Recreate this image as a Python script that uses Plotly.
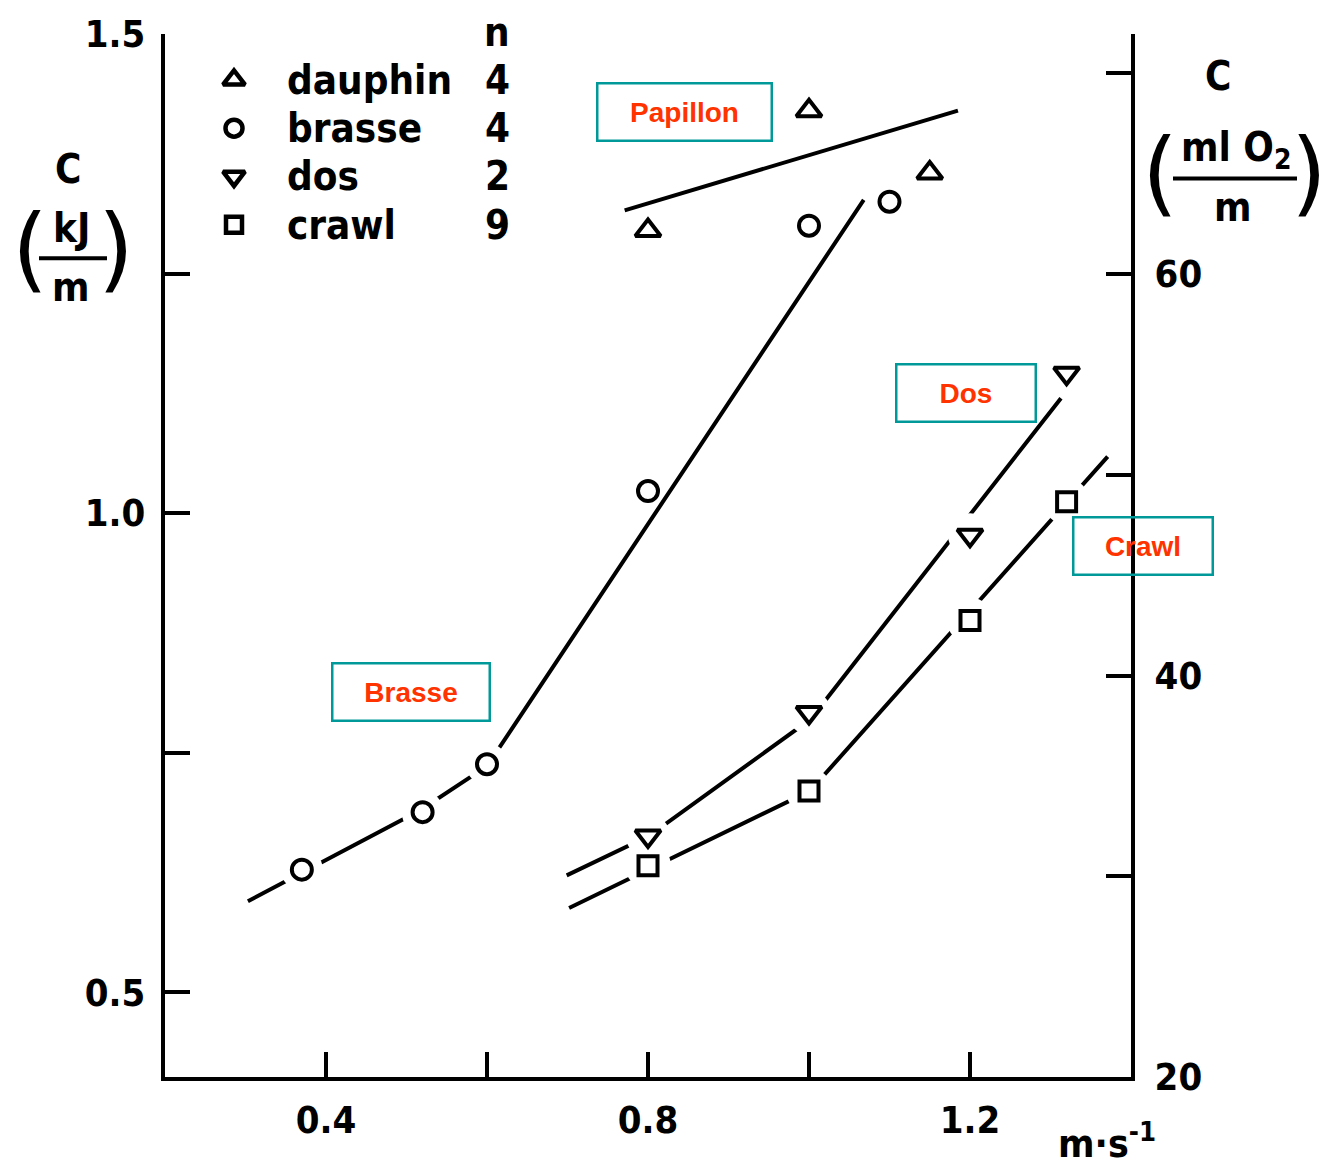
import plotly.graph_objects as go

# ---------------- data ----------------
dauphin_v = [0.80, 1.00, 1.15]
dauphin_c = [1.295, 1.420, 1.355]

brasse_v = [0.37, 0.52, 0.60, 0.80, 1.00, 1.10]
brasse_c = [0.628, 0.688, 0.738, 1.023, 1.300, 1.325]

dos_v = [0.80, 1.00, 1.20, 1.32]
dos_c = [0.663, 0.792, 0.977, 1.146]

crawl_v = [0.80, 1.00, 1.20, 1.32]
crawl_c = [0.632, 0.710, 0.888, 1.012]

# fitted curves drawn in the figure
papillon_fit_v = [0.771, 1.185]
papillon_fit_c = [1.316, 1.420]
brasse_fit_v = [0.303, 0.517, 0.600, 1.068]
brasse_fit_c = [0.595, 0.690, 0.736, 1.327]
dos_fit_v = [0.699, 0.801, 1.002, 1.313]
dos_fit_c = [0.622, 0.663, 0.785, 1.120]
crawl_fit_v = [0.702, 1.001, 1.371]
crawl_fit_c = [0.588, 0.710, 1.059]

legend_labels = ["dauphin", "brasse", "dos", "crawl"]
legend_n = ["4", "4", "2", "9"]
legend_header = "n"

x_ticks = [0.4, 0.6, 0.8, 1.0, 1.2]
x_ticktext = ["0.4", " ", "0.8", " ", "1.2"]
yl_ticks = [0.5, 0.75, 1.0, 1.25, 1.5]
yl_ticktext = ["0.5", " ", "1.0", " ", "1.5"]
yr_ticks = [20, 30, 40, 50, 60, 70]
yr_ticktext = ["20", " ", "40", " ", "60", " "]

box_labels = ["Papillon", "Dos", "Crawl", "Brasse"]

# ---------------- layout geometry ----------------
W, H = 1337, 1165
L, R, T, B = 165, 206, 30, 88
PW, PH = W - L - R, H - T - B
FONT = "DejaVu Sans Condensed"
BLACK = "#000000"
BG = "#ffffff"


def px(x):
    return (x - L) / PW


def py(y):
    return (H - B - y) / PH


fig = go.Figure()

line_style = dict(color=BLACK, width=4)
for xv, yv in [(papillon_fit_v, papillon_fit_c), (brasse_fit_v, brasse_fit_c),
               (dos_fit_v, dos_fit_c), (crawl_fit_v, crawl_fit_c)]:
    fig.add_trace(go.Scatter(x=xv, y=yv, mode="lines", line=line_style,
                             hoverinfo="skip", showlegend=False))

# white halos that open gaps in the curves around the points
halo_sizes = {
    "brasse": [42, 42, 42, 0, 0, 0],
    "dos": [44, 44, 44, 44],
    "crawl": [46, 46, 46, 46],
}
for name, xv, yv in [("brasse", brasse_v, brasse_c), ("dos", dos_v, dos_c),
                     ("crawl", crawl_v, crawl_c)]:
    fig.add_trace(go.Scatter(x=xv, y=yv, mode="markers",
                             marker=dict(symbol="circle", size=halo_sizes[name],
                                         color=BG, opacity=1, line=dict(width=0)),
                             hoverinfo="skip", showlegend=False))

symbols = {"dauphin": ("triangle-up", 22), "brasse": ("circle", 20),
           "dos": ("triangle-down", 22), "crawl": ("square", 19)}
for name, xv, yv in [("dauphin", dauphin_v, dauphin_c), ("brasse", brasse_v, brasse_c),
                     ("dos", dos_v, dos_c), ("crawl", crawl_v, crawl_c)]:
    sym, sz = symbols[name]
    fig.add_trace(go.Scatter(x=xv, y=yv, mode="markers", name=name,
                             marker=dict(symbol=sym, size=sz, color=BG, opacity=1,
                                         line=dict(color=BLACK, width=4)),
                             showlegend=False))

# right axis: dummy trace to activate y2
fig.add_trace(go.Scatter(x=[None], y=[None], yaxis="y2", showlegend=False))

# legend symbols on a pixel overlay axis
leg_y0, leg_dy = 76, 48.5
for i, name in enumerate(legend_labels):
    sym, sz = symbols[name]
    fig.add_trace(go.Scatter(x=[234], y=[leg_y0 + i * leg_dy], xaxis="x3", yaxis="y3",
                             mode="markers",
                             marker=dict(symbol=sym, size=sz - 3, color=BG,
                                         line=dict(color=BLACK, width=4.5)),
                             hoverinfo="skip", showlegend=False))

ann = []
tfont = dict(family=FONT, size=40, color=BLACK, weight="bold")
for i, name in enumerate(legend_labels):
    yy = leg_y0 + i * leg_dy
    ann.append(dict(x=285, y=yy, xref="x3", yref="y3", text=name, showarrow=False,
                    xanchor="left", yanchor="middle", font=tfont))
    ann.append(dict(x=497, y=yy, xref="x3", yref="y3", text=legend_n[i], showarrow=False,
                    xanchor="center", yanchor="middle", font=tfont))
ann.append(dict(x=px(497), y=py(28), xref="paper", yref="paper", text=legend_header,
                showarrow=False, xanchor="center", yanchor="middle", font=tfont))

# boxed labels
box_geo = [(684, 108.5, 176), (965.5, 390.5, 141), (1142.5, 543.5, 141), (410.5, 690.5, 159)]
for lab, (cx, cy, bw) in zip(box_labels, box_geo):
    ann.append(dict(x=px(cx), y=py(cy), xref="paper", yref="paper", text=lab,
                    showarrow=False, xanchor="center", yanchor="middle",
                    width=bw - 4, height=55, borderpad=0, bordercolor="#009999",
                    borderwidth=2.5, bgcolor="rgba(0,0,0,0)",
                    font=dict(family="Liberation Sans", size=28, color="#ff3300",
                              weight="bold")))

# axis titles
afont = dict(family=FONT, size=40, color=BLACK, weight="bold")
pfont = dict(family="DejaVu Sans", size=92, color=BLACK)
ann += [
    dict(x=px(68), y=py(166), xref="paper", yref="paper", text="C", showarrow=False,
         xanchor="center", yanchor="middle", font=afont),
    dict(x=px(71), y=py(225), xref="paper", yref="paper", text="kJ", showarrow=False,
         xanchor="center", yanchor="middle", font=afont),
    dict(x=px(71), y=py(284), xref="paper", yref="paper", text="m", showarrow=False,
         xanchor="center", yanchor="middle", font=afont),
    dict(x=px(30), y=py(246), xref="paper", yref="paper", text="(", showarrow=False,
         xanchor="center", yanchor="middle", font=pfont),
    dict(x=px(116), y=py(246), xref="paper", yref="paper", text=")", showarrow=False,
         xanchor="center", yanchor="middle", font=pfont),
    dict(x=px(1218), y=py(72), xref="paper", yref="paper", text="C", showarrow=False,
         xanchor="center", yanchor="middle", font=afont),
    dict(x=px(1236), y=py(146), xref="paper", yref="paper", text="ml O<sub>2</sub>",
         showarrow=False, xanchor="center", yanchor="middle", font=afont),
    dict(x=px(1233), y=py(204), xref="paper", yref="paper", text="m", showarrow=False,
         xanchor="center", yanchor="middle", font=afont),
    dict(x=px(1160), y=py(170), xref="paper", yref="paper", text="(", showarrow=False,
         xanchor="center", yanchor="middle", font=pfont),
    dict(x=px(1309), y=py(170), xref="paper", yref="paper", text=")", showarrow=False,
         xanchor="center", yanchor="middle", font=pfont),
    dict(x=px(1107), y=py(1141), xref="paper", yref="paper", text="m·s<sup>-1</sup>",
         showarrow=False, xanchor="center", yanchor="middle",
         font=dict(family=FONT, size=39, color=BLACK, weight="bold")),
]

shapes = [
    dict(type="line", xref="paper", yref="paper", x0=px(39), x1=px(107),
         y0=py(255), y1=py(255), line=dict(color=BLACK, width=4)),
    dict(type="line", xref="paper", yref="paper", x0=px(1173), x1=px(1297),
         y0=py(175), y1=py(175), line=dict(color=BLACK, width=4)),
]

tickfont = dict(family=FONT, size=38, color=BLACK, weight="bold")
axis_common = dict(showline=True, linecolor=BLACK, linewidth=4, ticks="inside",
                   ticklen=25, tickwidth=4, tickcolor=BLACK, showgrid=False,
                   zeroline=False, tickfont=tickfont, fixedrange=True)

fig.update_layout(
    width=W, height=H,
    margin=dict(l=L, r=R, t=T, b=B, pad=0),
    paper_bgcolor=BG, plot_bgcolor=BG,
    showlegend=False,
    xaxis=dict(range=[0.2, 1.4], tickmode="array", tickvals=x_ticks, ticktext=x_ticktext,
               ticklabelstandoff=6, **axis_common),
    yaxis=dict(range=[0.4116, 1.5], tickmode="array", tickvals=yl_ticks,
               ticktext=yl_ticktext, ticklabelstandoff=8, **axis_common),
    yaxis2=dict(range=[20, 71.96], overlaying="y", side="right", anchor="x",
                tickmode="array", tickvals=yr_ticks, ticktext=yr_ticktext,
                ticklabelstandoff=12, **axis_common),
    xaxis3=dict(range=[L, W - R], overlaying="x", anchor="y3", visible=False),
    yaxis3=dict(range=[H - B, T], overlaying="y", anchor="x3", visible=False),
    annotations=ann,
    shapes=shapes,
)

fig.write_html("out.html")
